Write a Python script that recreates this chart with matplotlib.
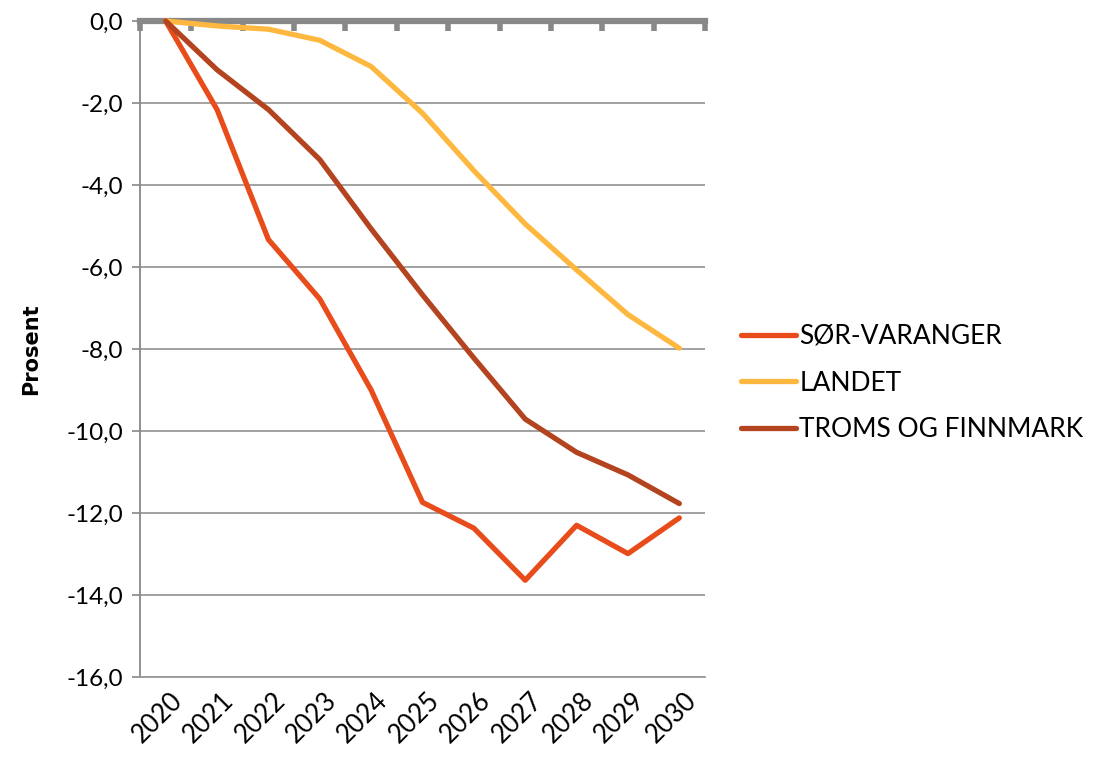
"""Befolkningsendring i prosent 2020-2030: Sør-Varanger, landet, Troms og Finnmark."""
import matplotlib
matplotlib.use("Agg")
import matplotlib.pyplot as plt
import matplotlib.transforms as mtransforms
from matplotlib.ticker import FuncFormatter

years = ["2020", "2021", "2022", "2023", "2024", "2025",
         "2026", "2027", "2028", "2029", "2030"]
sor_varanger = [0.0, -2.16, -5.33, -6.78, -9.0, -11.74,
                -12.37, -13.64, -12.30, -12.99, -12.12]
landet = [0.0, -0.12, -0.20, -0.47, -1.11, -2.25,
          -3.65, -4.95, -6.07, -7.16, -7.98]
troms_finnmark = [0.0, -1.19, -2.16, -3.38, -5.07, -6.68,
                  -8.22, -9.71, -10.52, -11.07, -11.77]

series = [
    ("SØR-VARANGER", sor_varanger, "#E84C1B"),
    ("LANDET", landet, "#FFB83F"),
    ("TROMS OG FINNMARK", troms_finnmark, "#B4441F"),
]

GRAY = "#888888"
plt.rcParams["font.family"] = ["Lato", "DejaVu Sans"]

W, H = 1112, 757
fig = plt.figure(figsize=(W / 100, H / 100), dpi=100)
ax = fig.add_axes([140 / W, 1 - 677 / H, (705 - 140) / W, (677 - 21) / H])

x = list(range(len(years)))
for name, vals, col in series:
    ax.plot(x, vals, color=col, lw=3.8, label=name,
            solid_capstyle="round", solid_joinstyle="round", clip_on=False, zorder=3)

ax.set_xlim(-0.5, len(years) - 0.5)
ax.set_ylim(-16, 0)

# y axis
ax.set_yticks(range(-16, 1, 2))
ax.yaxis.set_major_formatter(FuncFormatter(lambda v, p: f"{v:.1f}".replace(".", ",")))
ax.tick_params(axis="y", length=6, width=1.2, color=GRAY, labelsize=17.5, pad=6)
ax.grid(axis="y", color="#9a9a9a", lw=1.3)
ax.set_axisbelow(True)
ax.set_ylabel("Prosent", fontsize=15, fontweight="bold", family="DejaVu Sans",
              labelpad=18)

# x axis: labels below, thick axis line at y=0 on top
ax.set_xticks(x)
ax.set_xticklabels(years, rotation=45, ha="right", va="top",
                   rotation_mode="anchor", fontsize=18.5)
ax.tick_params(axis="x", which="major", length=0, pad=8)
offset = mtransforms.ScaledTranslation(4 / 100, 0, fig.dpi_scale_trans)
for lbl in ax.get_xticklabels():
    lbl.set_transform(lbl.get_transform() + offset)
ax.set_xticks([i - 0.5 for i in range(len(years) + 1)], minor=True)
ax.tick_params(axis="x", which="minor", bottom=False, top=True,
               direction="in", length=7, width=4, color=GRAY)

ax.spines["right"].set_visible(False)
ax.spines["top"].set_color(GRAY)
ax.spines["top"].set_linewidth(4.5)
ax.spines["top"].set_zorder(2)
ax.spines["left"].set_color(GRAY)
ax.spines["left"].set_linewidth(1.3)
ax.spines["bottom"].set_color("#9a9a9a")
ax.spines["bottom"].set_linewidth(1.3)

fig.legend(loc="center left", bbox_to_anchor=(730 / W, 1 - 383 / H),
           frameon=False, fontsize=19, handlelength=2.1, handletextpad=0.12,
           labelspacing=0.82, borderaxespad=0)

fig.savefig("out.png", dpi=100)
